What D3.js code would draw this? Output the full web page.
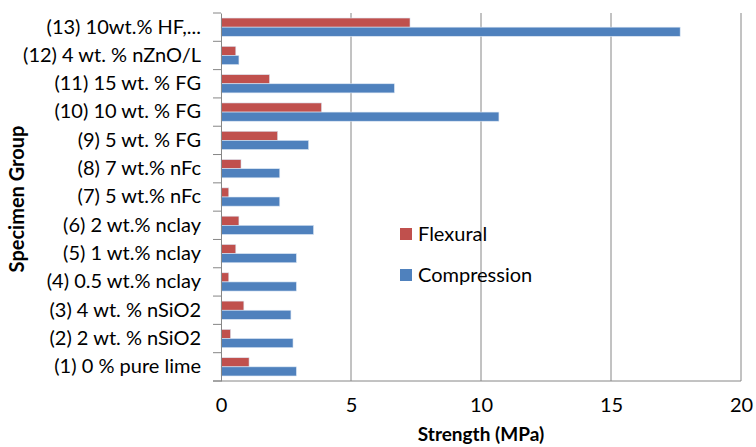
<!DOCTYPE html>
<html>
<head>
<meta charset="utf-8">
<script src="https://cdn.jsdelivr.net/npm/d3@7"></script>
<style>
body{margin:0;background:#fff;}
text{font-family:Lato, "Open Sans", sans-serif;fill:#000;}
</style>
</head>
<body>
<div class="chart"></div>
<script>
'use strict';
var categories=["(1) 0 % pure lime","(2) 2 wt. % nSiO2","(3) 4 wt. % nSiO2","(4) 0.5 wt.% nclay","(5) 1 wt.% nclay","(6) 2 wt.% nclay","(7) 5 wt.% nFc","(8) 7 wt.% nFc","(9) 5 wt. % FG","(10) 10 wt. % FG","(11) 15 wt. % FG","(12) 4 wt. % nZnO/L","(13) 10wt.% HF,..."];
var flexural=[1.08,0.37,0.88,0.3,0.57,0.69,0.3,0.77,2.18,3.87,1.87,0.57,7.27];
var compression=[2.9,2.77,2.69,2.9,2.9,3.56,2.26,2.26,3.37,10.69,6.67,0.69,17.66];
var xTicks=[0,5,10,15,20];
var seriesNames=["Flexural","Compression"];
var colors=["#C0504D","#4F81BD"];

var margin={top:13,left:221,right:15,bottom:66};
var W=756,H=447;
var w=W-margin.left-margin.right, h=H-margin.top-margin.bottom;

var svg=d3.select(".chart").append("svg").attr("width",W).attr("height",H);
var g=svg.append("g").attr("transform","translate("+margin.left+","+margin.top+")");

var xScale=d3.scaleLinear().domain([0,20]).range([0,520]);
var yScale=d3.scaleBand().domain(categories.slice().reverse()).range([0,h]);
var inner=d3.scaleBand().domain(seriesNames).range([0,yScale.bandwidth()]).paddingOuter(0.55);

// gridlines
g.selectAll(".grid").data(xTicks.filter(function(d){return d>0;}))
  .enter().append("line")
  .attr("x1",function(d){return xScale(d);}).attr("x2",function(d){return xScale(d);})
  .attr("y1",0).attr("y2",h)
  .attr("stroke","#868686").attr("stroke-width",1);

// bars
var rows=categories.map(function(c,i){return {cat:c,vals:[flexural[i],compression[i]]};});
var grp=g.selectAll(".row").data(rows).enter().append("g")
  .attr("transform",function(d){return "translate(0,"+yScale(d.cat)+")";});
grp.selectAll("rect").data(function(d){return d.vals.map(function(v,k){return {v:v,k:k};});})
  .enter().append("rect")
  .attr("x",0)
  .attr("y",function(d){return inner(seriesNames[d.k]);})
  .attr("height",inner.bandwidth())
  .attr("width",function(d){return xScale(d.v);})
  .attr("fill",function(d){return colors[d.k];})
  .attr("stroke","#dbe6f3").attr("stroke-width",0.6);

// y axis
var yAxis=d3.axisLeft(yScale).tickSize(0).tickPadding(20);
var ya=g.append("g").call(yAxis);
ya.select(".domain").attr("stroke","#868686");
ya.selectAll("text").style("font-size","20px").attr("fill","#222").style("font-family","Lato, sans-serif");
// boundary ticks
var bounds=d3.range(categories.length+1).map(function(i){return i*yScale.step();});
g.selectAll(".btick").data(bounds).enter().append("line")
  .attr("x1",-8).attr("x2",0)
  .attr("y1",function(d){return d;}).attr("y2",function(d){return d;})
  .attr("stroke","#868686");

// x axis
var xAxis=d3.axisBottom(xScale).tickValues(xTicks).tickSize(0).tickPadding(17);
var xa=g.append("g").attr("transform","translate(0,"+h+")").call(xAxis);
xa.select(".domain").remove();
xa.append("line").attr("x1",-8).attr("x2",xScale(20)).attr("stroke","#868686");
xa.selectAll("text").style("font-size","20px").attr("fill","#222").style("font-family","Lato, sans-serif");

// titles
svg.append("text").attr("x",margin.left+xScale(10)).attr("y",441)
  .attr("text-anchor","middle").style("font-size","19px").style("font-weight","bold").text("Strength (MPa)");
svg.append("text").attr("transform","translate(24,199) rotate(-90)")
  .attr("text-anchor","middle").style("font-size","20px").style("font-weight","bold").text("Specimen Group");

// legend
var leg=svg.append("g").attr("transform","translate(400,234)");
seriesNames.forEach(function(s,i){
  leg.append("rect").attr("x",0).attr("y",i*41-6).attr("width",12).attr("height",12).attr("fill",colors[i]);
  leg.append("text").attr("x",18).attr("y",i*41+7).style("font-size","20px").attr("fill","#222").text(s);
});
</script>
</body>
</html>
